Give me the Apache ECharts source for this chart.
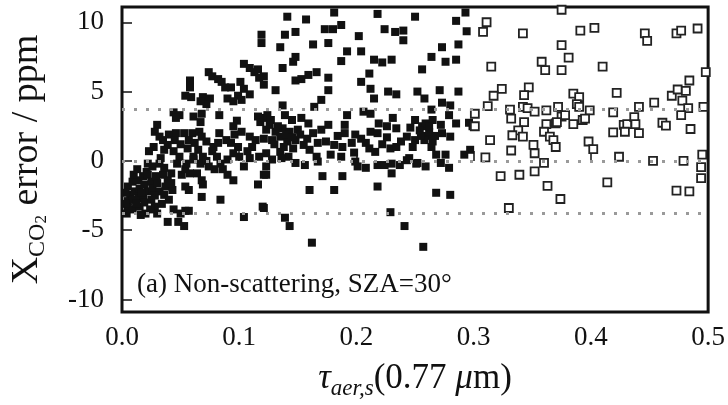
<!DOCTYPE html>
<html>
<head>
<meta charset="utf-8">
<script src="https://cdn.jsdelivr.net/npm/echarts@6/dist/echarts.min.js"></script>
<style>
  html, body { margin: 0; padding: 0; background: #fff; }
  #chart { width: 728px; height: 405px; }
</style>
</head>
<body>
<div id="chart"></div>
<script>
// x: tau_aer,s (0.77 um), y: XCO2 error / ppm
// filled squares: tau < 0.3
const filledPoints = [
    [0.119, 9.1], [0.119, 8.5], [0.104, 7.0], [0.109, 6.7], [0.113, 6.4], [0.116, 6.6], [0.117, 6.0],
    [0.074, 6.4], [0.077, 6.1], [0.082, 5.9], [0.085, 5.7], [0.088, 5.3], [0.058, 5.8], [0.058, 5.3],
    [0.054, 4.7], [0.059, 4.6], [0.093, 5.3], [0.101, 5.7], [0.104, 5.2], [0.109, 4.8], [0.099, 4.7],
    [0.090, 4.5], [0.095, 4.3], [0.102, 4.4], [0.069, 4.6], [0.075, 4.5], [0.072, 4.1], [0.067, 4.3],
    [0.044, 3.5], [0.049, 3.3], [0.046, 3.1], [0.061, 3.2], [0.068, 3.4], [0.067, 2.8], [0.083, 3.3],
    [0.098, 2.9], [0.116, 3.2], [0.118, 2.8], [0.121, 3.1], [0.030, 2.6], [0.028, 2.1], [0.032, 1.75],
    [0.035, 1.5], [0.039, 1.15], [0.036, 0.8], [0.027, 1.0], [0.023, 0.7], [0.046, 2.0], [0.053, 2.0],
    [0.060, 2.0], [0.057, 1.5], [0.062, 1.3], [0.056, 0.9], [0.065, 0.8], [0.069, 0.3], [0.061, 0.3],
    [0.066, 2.1], [0.068, 1.75], [0.072, 1.4], [0.078, 1.0], [0.082, 1.3], [0.077, 0.7], [0.081, 0.3],
    [0.084, -0.2], [0.079, -0.6], [0.086, -0.6], [0.083, 2.0], [0.089, 1.5], [0.093, 1.3], [0.099, 1.0],
    [0.096, 1.9], [0.095, 2.5], [0.102, 2.1], [0.109, 1.75], [0.114, 1.5], [0.121, 1.6], [0.111, 1.0],
    [0.107, 0.7], [0.100, 0.3], [0.104, -0.4], [0.116, -1.7], [0.121, -1.0], [0.123, -0.4], [0.095, -1.4],
    [0.090, -1.0], [0.022, -0.2], [0.021, -0.8],
    [0.005, -1.85], [0.009, -1.5], [0.014, -1.4], [0.018, -1.1], [0.022, -1.0], [0.007, -2.45], [0.011, -2.2],
    [0.015, -2.0], [0.019, -1.7], [0.025, -1.5], [0.005, -2.9], [0.009, -2.8], [0.014, -2.7], [0.018, -2.6],
    [0.022, -2.2], [0.026, -2.0], [0.005, -3.4], [0.009, -3.5], [0.015, -3.3], [0.019, -3.0], [0.025, -2.8],
    [0.020, -3.8], [0.016, -3.9], [0.004, -3.8], [0.028, -3.3], [0.030, -3.8], [0.032, -2.2], [0.036, -2.45],
    [0.040, -2.8], [0.037, -1.85], [0.043, -2.1], [0.044, -3.5], [0.050, -3.8], [0.054, -3.6], [0.057, -3.6],
    [0.039, -4.4], [0.048, -4.4], [0.053, -4.7], [0.029, -1.1], [0.035, -1.0], [0.039, -1.4], [0.030, -1.6],
    [0.026, -0.4], [0.032, -0.2], [0.036, -0.5], [0.042, -0.9], [0.051, -1.0], [0.054, -0.6], [0.058, -0.9],
    [0.064, -0.9], [0.068, -1.4], [0.069, -1.7], [0.054, -1.85], [0.057, -2.1], [0.068, -2.6], [0.084, -2.8],
    [0.104, -4.05], [0.120, -3.3], [0.044, 0.7], [0.049, 0.3], [0.047, -0.2], [0.061, 0.1], [0.067, -0.2],
    [0.072, 0.0], [0.074, -0.4], [0.090, 0.1], [0.095, 0.55], [0.117, 0.3], [0.109, 0.2],
    [0.003, -2.3], [0.012, -3.1], [0.017, -2.3], [0.024, -3.5], [0.010, -1.0], [0.003, -3.1], [0.013, -0.6],
    [0.028, -2.5], [0.034, -3.1], [0.042, -1.6], [0.040, 1.9], [0.050, 1.2], [0.045, 1.5], [0.033, 0.2],
    [0.055, -0.2],
    [0.141, 10.4], [0.181, 10.7], [0.218, 10.6], [0.250, 10.4], [0.157, 10.2], [0.148, 9.3], [0.139, 9.1],
    [0.173, 9.5], [0.180, 9.5], [0.187, 9.8], [0.224, 9.5], [0.233, 9.3], [0.240, 9.4], [0.240, 8.7],
    [0.202, 9.0], [0.135, 8.2], [0.163, 8.4], [0.176, 8.5], [0.192, 7.9], [0.204, 7.9], [0.187, 7.2],
    [0.148, 7.5], [0.146, 7.15], [0.215, 7.3], [0.222, 7.1], [0.230, 7.3], [0.137, 6.7], [0.159, 6.2],
    [0.166, 6.4], [0.176, 6.0], [0.148, 5.8], [0.153, 5.9], [0.121, 6.1], [0.121, 5.5], [0.211, 6.3],
    [0.204, 5.7], [0.212, 5.2], [0.131, 5.1], [0.176, 5.1], [0.227, 5.0], [0.234, 4.8], [0.252, 5.0],
    [0.170, 4.4], [0.215, 4.5], [0.137, 4.0], [0.164, 3.9], [0.206, 3.55], [0.212, 3.4], [0.192, 3.3],
    [0.124, 3.3], [0.139, 3.3], [0.231, 3.1], [0.250, 2.95], [0.127, 2.95], [0.145, 2.95], [0.153, 3.1],
    [0.159, 2.7], [0.176, 2.6], [0.190, 2.6], [0.219, 2.7], [0.226, 2.5], [0.234, 2.35], [0.123, 2.25],
    [0.131, 2.1], [0.137, 2.35], [0.143, 2.1], [0.150, 2.25], [0.163, 2.0], [0.170, 2.25], [0.190, 2.0],
    [0.199, 1.9], [0.212, 2.1], [0.218, 2.0], [0.243, 1.75], [0.250, 1.5], [0.128, 1.5], [0.135, 1.75],
    [0.141, 1.4], [0.148, 1.5], [0.155, 1.15], [0.167, 1.3], [0.174, 1.4], [0.181, 1.15], [0.188, 1.0],
    [0.204, 1.6], [0.208, 1.3], [0.211, 0.9], [0.216, 0.65], [0.229, 0.9], [0.234, 1.0], [0.238, 1.4],
    [0.123, 0.55], [0.135, 0.65], [0.142, 0.3], [0.148, -0.15], [0.156, -0.3], [0.166, 0.3], [0.167, -0.05],
    [0.178, 0.45], [0.187, 0.3], [0.199, -0.05], [0.201, -0.4], [0.208, -0.5], [0.218, -0.3], [0.224, -0.3],
    [0.230, -0.2], [0.237, -0.3], [0.243, 0.05], [0.251, -0.2], [0.230, -0.9], [0.123, -1.0], [0.171, -1.1],
    [0.188, -1.1], [0.160, -2.1], [0.181, -2.1], [0.218, -1.85], [0.121, -3.4], [0.139, -4.1], [0.143, -4.7],
    [0.229, -3.7], [0.241, -4.7], [0.162, -5.9],
    [0.126, 2.6], [0.133, 2.5], [0.140, 1.9], [0.145, 1.7], [0.152, 1.9], [0.158, 1.6], [0.130, 1.2],
    [0.138, 1.0], [0.146, 0.9], [0.160, 0.8], [0.128, 0.1], [0.136, 0.2], [0.184, 1.8], [0.196, 1.3],
    [0.222, 1.2], [0.226, 1.7], [0.246, 2.4], [0.256, 2.5], [0.261, 1.8], [0.198, 0.6],
    [0.293, 10.7], [0.285, 10.1], [0.294, 9.35], [0.273, 8.2], [0.287, 8.4], [0.264, 7.5], [0.276, 7.15],
    [0.285, 7.3], [0.256, 6.6], [0.258, 4.5], [0.271, 5.1], [0.287, 5.0], [0.273, 4.2], [0.280, 4.0],
    [0.264, 3.7], [0.279, 3.3], [0.259, 2.7], [0.265, 2.95], [0.272, 2.6], [0.285, 2.7], [0.296, 2.75],
    [0.299, 2.5], [0.254, 2.2], [0.262, 2.1], [0.273, 2.0], [0.280, 1.75], [0.258, 1.5], [0.265, 1.4],
    [0.264, 1.0], [0.248, 1.0], [0.268, 0.45], [0.276, 0.45], [0.292, 0.45], [0.297, 0.8], [0.245, 0.2],
    [0.252, -0.15], [0.259, -0.4], [0.272, -0.15], [0.279, -0.5], [0.268, -2.3], [0.280, -2.45], [0.257, -6.2],
    [0.255, 1.8], [0.267, 1.8], [0.262, 2.5]
];

// open squares: tau >= 0.3
const openPoints = [
    [0.311, 10.0], [0.308, 9.3], [0.342, 9.2], [0.315, 6.8], [0.375, 8.35], [0.375, 10.9], [0.358, 7.15],
    [0.361, 6.55], [0.375, 6.55], [0.324, 5.2], [0.317, 4.7], [0.312, 3.95], [0.301, 3.4], [0.301, 2.5],
    [0.347, 5.3], [0.343, 4.75], [0.342, 3.9], [0.331, 3.7], [0.346, 3.8], [0.352, 3.55], [0.332, 3.05],
    [0.343, 2.8], [0.362, 3.65], [0.372, 3.9], [0.375, 3.2], [0.362, 2.65], [0.370, 2.7], [0.338, 2.2],
    [0.333, 1.85], [0.342, 1.75], [0.360, 2.1], [0.365, 1.75], [0.368, 1.5], [0.370, 1.0], [0.351, 1.15],
    [0.352, 0.55], [0.314, 1.5], [0.332, 0.75], [0.310, 0.25], [0.360, -0.15], [0.323, -1.1], [0.339, -1.0],
    [0.352, -0.75], [0.363, -1.8], [0.374, -2.75], [0.330, -3.4],
    [0.391, 9.4], [0.403, 9.6], [0.381, 7.45], [0.410, 6.8], [0.446, 9.2], [0.448, 8.65], [0.473, 9.2],
    [0.477, 9.4], [0.491, 9.55], [0.498, 6.4], [0.484, 5.8], [0.385, 4.85], [0.390, 4.6], [0.388, 4.1],
    [0.390, 3.9], [0.399, 3.65], [0.422, 4.9], [0.419, 3.5], [0.441, 3.9], [0.454, 4.2], [0.469, 4.7],
    [0.474, 5.15], [0.481, 5.05], [0.478, 4.35], [0.483, 3.8], [0.477, 3.3], [0.496, 3.9], [0.378, 3.3],
    [0.371, 2.8], [0.385, 2.65], [0.393, 2.95], [0.395, 3.05], [0.428, 2.6], [0.431, 2.65], [0.437, 3.15],
    [0.438, 2.65], [0.429, 2.1], [0.419, 2.05], [0.441, 2.0], [0.461, 2.75], [0.464, 2.55], [0.485, 2.3],
    [0.398, 1.4], [0.402, 0.85], [0.424, 0.3], [0.453, 0.0], [0.479, 0.0], [0.495, 0.45], [0.494, -0.45],
    [0.494, -1.25], [0.414, -1.55], [0.473, -2.15], [0.484, -2.2]
];

const yTicks = [-10, -5, 0, 5, 10];
const refLevels = [3.75, 0, -3.75];

const serif = 'Liberation Serif';

const chart = echarts.init(document.getElementById('chart'), null, { renderer: 'canvas' });
chart.setOption({
    animation: false,
    backgroundColor: '#fff',
    grid: {
        left: 117,
        right: 14,
        top: 7,
        bottom: 93,
        show: true,
        borderColor: '#111',
        borderWidth: 3,
        backgroundColor: 'transparent'
    },
    xAxis: {
        type: 'value',
        min: 0,
        max: 0.5,
        interval: 0.1,
        axisLine: { show: false },
        splitLine: { show: false },
        axisTick: { inside: true, length: 10, lineStyle: { color: '#111', width: 1.5 } },
        axisLabel: {
            margin: 12,
            fontFamily: serif,
            fontSize: 27,
            color: '#111',
            formatter: function (v) { return v.toFixed(1); }
        },
        name: '{tau|τ}{sub|aer,s}{t|(0.77 }{mu|μ}{t|m)}',
        nameLocation: 'middle',
        nameGap: 46,
        nameTextStyle: {
            rich: {
                tau: { fontFamily: serif, fontStyle: 'italic', fontSize: 35, color: '#111', verticalAlign: 'middle', lineHeight: 42 },
                sub: { fontFamily: serif, fontStyle: 'italic', fontSize: 23, color: '#111', verticalAlign: 'bottom', lineHeight: 42 },
                t: { fontFamily: serif, fontSize: 35, color: '#111', verticalAlign: 'middle', lineHeight: 42 },
                mu: { fontFamily: serif, fontStyle: 'italic', fontSize: 35, color: '#111', verticalAlign: 'middle', lineHeight: 42 }
            }
        }
    },
    yAxis: {
        type: 'value',
        min: -10.9,
        max: 11.1,
        axisLine: { show: false },
        splitLine: { show: false },
        axisTick: { inside: true, length: 10, customValues: yTicks, lineStyle: { color: '#111', width: 1.5 } },
        axisLabel: {
            margin: 18,
            fontFamily: serif,
            fontSize: 27,
            color: '#111',
            customValues: yTicks
        },
        name: '{x|X}{sub|CO}{sub2|2}{t| error / ppm}',
        nameLocation: 'middle',
        nameRotate: 90,
        nameGap: 72,
        nameTextStyle: {
            rich: {
                x: { fontFamily: serif, fontSize: 38, color: '#111', verticalAlign: 'middle', lineHeight: 46 },
                sub: { fontFamily: serif, fontSize: 24, color: '#111', verticalAlign: 'bottom', lineHeight: 46 },
                sub2: { fontFamily: serif, fontSize: 17, color: '#111', verticalAlign: 'bottom', lineHeight: 42 },
                t: { fontFamily: serif, fontSize: 38, color: '#111', verticalAlign: 'middle', lineHeight: 46 }
            }
        }
    },
    graphic: [{
        type: 'text',
        left: 137,
        top: 271,
        style: {
            text: '(a) Non-scattering, SZA=30°',
            fontFamily: serif,
            fontSize: 27,
            fill: '#111'
        }
    }],
    series: [
        {
            name: 'levels',
            type: 'scatter',
            data: [],
            z: 1,
            markLine: {
                silent: true,
                symbol: 'none',
                label: { show: false },
                lineStyle: { color: '#9a9a9a', width: 3, type: [3, 9] },
                data: refLevels.map(function (v) { return { yAxis: v }; })
            }
        },
        {
            name: 'tau < 0.3',
            type: 'scatter',
            symbol: 'rect',
            symbolSize: 8,
            z: 3,
            itemStyle: { color: '#111', opacity: 1 },
            data: filledPoints
        },
        {
            name: 'tau >= 0.3',
            type: 'scatter',
            symbol: 'rect',
            symbolSize: 8,
            z: 4,
            itemStyle: { color: '#fff', borderColor: '#222', borderWidth: 1.8, opacity: 1 },
            data: openPoints
        }
    ]
});
</script>
</body>
</html>
